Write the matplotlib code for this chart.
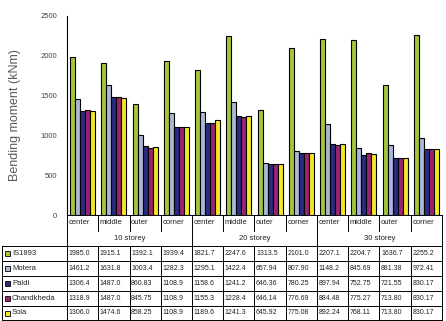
import matplotlib.pyplot as plt
from matplotlib.patches import Rectangle

plt.rcParams['font.family'] = ['Liberation Sans', 'DejaVu Sans']

positions = ["center", "middle", "outer", "corner"] * 3
storeys = ["10 storey", "20 storey", "30 storey"]
series_names = ["IS1893", "Motera", "Paldi", "Chandkheda", "Sola"]

is1893 = [1985.0, 1915.1, 1392.1, 1939.4, 1821.7, 2247.6, 1313.5, 2101.0, 2207.1, 2204.7, 1636.7, 2255.2]
motera = [1461.2, 1631.8, 1003.4, 1282.3, 1295.1, 1422.4, 657.94, 807.90, 1148.2, 845.69, 881.38, 972.41]
paldi = [1306.4, 1487.0, 860.83, 1108.9, 1158.6, 1241.2, 646.36, 780.25, 897.94, 752.75, 721.55, 830.17]
chandkheda = [1318.9, 1487.0, 845.75, 1108.9, 1155.3, 1228.4, 646.14, 776.69, 884.48, 775.27, 713.80, 830.17]
sola = [1306.0, 1474.6, 858.25, 1108.9, 1189.6, 1241.3, 645.92, 775.08, 892.24, 768.11, 713.80, 830.17]

# text shown in the table (keeps the original formatting)
cell_text = [
    ["1985.0", "1915.1", "1392.1", "1939.4", "1821.7", "2247.6", "1313.5", "2101.0", "2207.1", "2204.7", "1636.7", "2255.2"],
    ["1461.2", "1631.8", "1003.4", "1282.3", "1295.1", "1422.4", "657.94", "807.90", "1148.2", "845.69", "881.38", "972.41"],
    ["1306.4", "1487.0", "860.83", "1108.9", "1158.6", "1241.2", "646.36", "780.25", "897.94", "752.75", "721.55", "830.17"],
    ["1318.9", "1487.0", "845.75", "1108.9", "1155.3", "1228.4", "646.14", "776.69", "884.48", "775.27", "713.80", "830.17"],
    ["1306.0", "1474.6", "858.25", "1108.9", "1189.6", "1241.3", "645.92", "775.08", "892.24", "768.11", "713.80", "830.17"],
]

colors = ["#a6c63a", "#aab8d6", "#2b2b82", "#9b2470", "#f3e823"]

W, H = 446, 321
fig = plt.figure(figsize=(W / 100, H / 100), dpi=100)

# chart axes
x0, x1, ytop, ybot = 67, 442, 16, 215
ax = fig.add_axes([x0 / W, 1 - ybot / H, (x1 - x0) / W, (ybot - ytop) / H])
n = len(positions)
bw = 0.16
for i, (vals, c) in enumerate(zip([is1893, motera, paldi, chandkheda, sola], colors)):
    xs = [k - 0.4 + bw * (i + 0.5) for k in range(n)]
    ax.bar(xs, vals, width=bw, color=c, edgecolor="black", linewidth=0.8)
ax.set_xlim(-0.5, n - 0.5)
ax.set_ylim(0, 2500)
ax.set_yticks(range(0, 2501, 500))
ax.tick_params(axis="y", labelsize=5.5, length=0, colors="#444444", pad=7)
ax.set_xticks([])
for s in ["top", "right", "bottom"]:
    ax.spines[s].set_visible(False)
ax.spines["left"].set_linewidth(0.8)
fig.text(15 / W, 1 - 115 / H, "Bending moment (kNm)", rotation=90, ha="center", va="center",
         fontsize=9, color="#5a5a5a")

# table axes, in pixel-like units
tx = fig.add_axes([0, 0, 1, (H - ybot) / H])
unit = (x1 - x0) / n
tx.set_xlim(-0.5 - x0 / unit, -0.5 - x0 / unit + W / unit)
tx.set_ylim(H, ybot)
tx.axis("off")

lw = 0.7
left_edge = -0.5 - 65 / unit
rows = [246, 261, 276, 291, 306, 320]
# header: category row and storey row
tx.plot([-0.5, n - 0.5], [ybot, ybot], color="black", lw=lw)
for k in range(n + 1):
    x = k - 0.5
    top_end = rows[0] if k % 4 == 0 else 231
    tx.plot([x, x], [ybot, top_end], color="black", lw=lw)
for k, p in enumerate(positions):
    tx.text(k - 0.45, 222, p, fontsize=5.5, va="center", ha="left", color="#222222")
for g, s in enumerate(storeys):
    tx.text(g * 4 + 1.5, 238, s, fontsize=5.5, va="center", ha="center", color="#222222")
# data rows
for y in rows:
    tx.plot([left_edge, n - 0.5], [y, y], color="black", lw=lw)
for k in range(-1, n + 1):
    x = k - 0.5 if k >= 0 else left_edge
    tx.plot([x, x], [rows[0], rows[-1]], color="black", lw=lw)
for r, (name, c) in enumerate(zip(series_names, colors)):
    yc = (rows[r] + rows[r + 1]) / 2
    tx.add_patch(Rectangle((left_edge + 0.1, yc - 2.5), 0.15, 5, facecolor=c, edgecolor="black", lw=0.6))
    tx.text(left_edge + 0.32, yc, name, fontsize=5.5, va="center", ha="left", color="#222222")
    for k in range(n):
        tx.text(k - 0.45, yc, cell_text[r][k], fontsize=5, va="center", ha="left", color="#222222")

fig.savefig("out.png", dpi=100)
